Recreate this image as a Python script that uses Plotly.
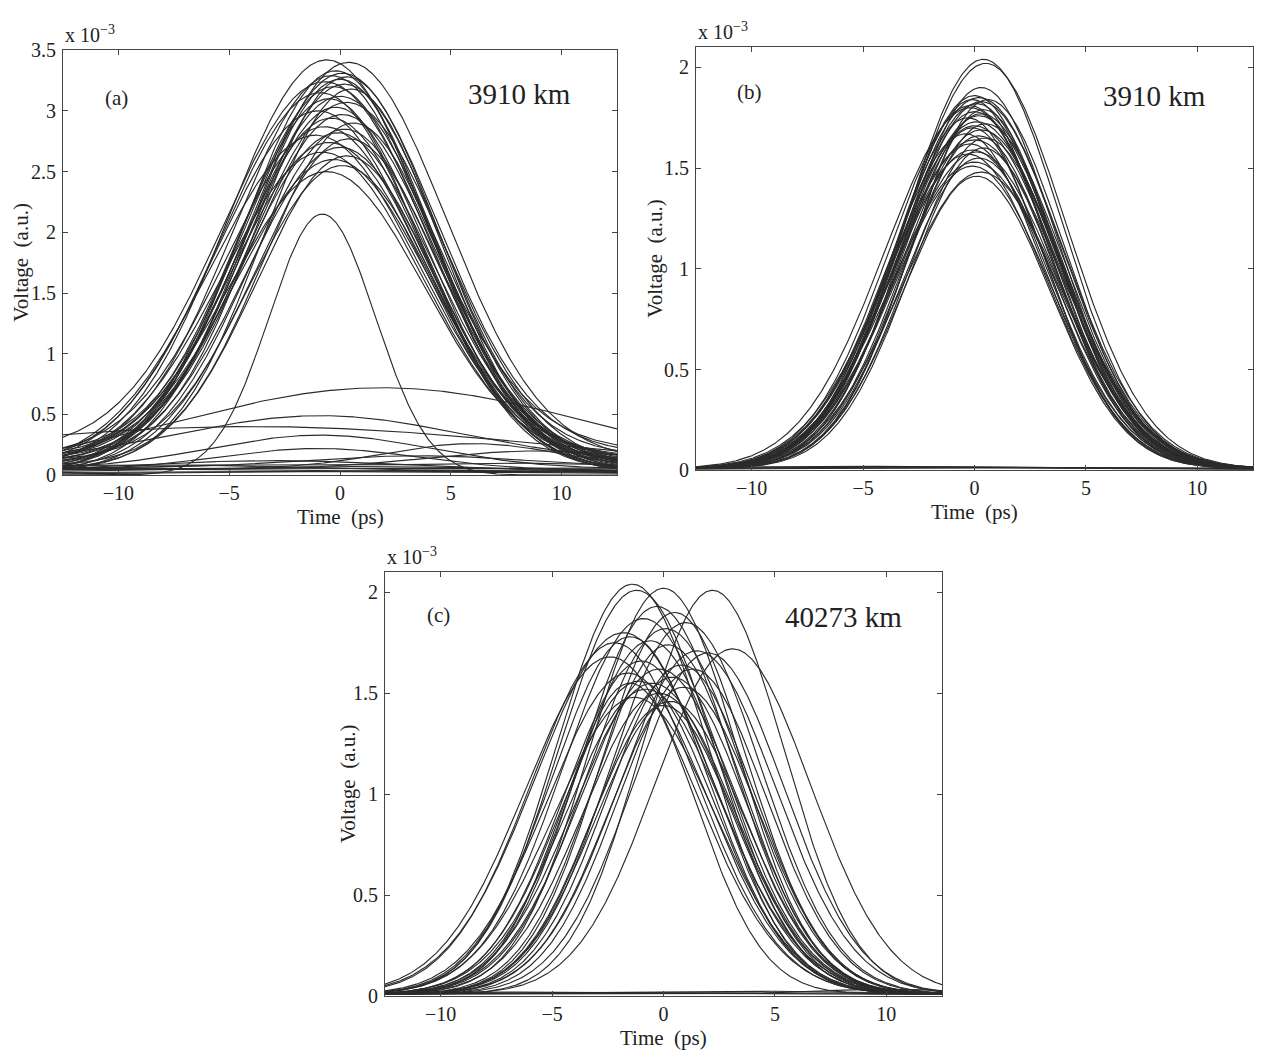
import numpy as np
import plotly.graph_objects as go

# ---- time grid (ps) ----
t = np.linspace(-12.5, 12.5, 501)

# ---- panel (a): 3910 km, "one" bits ----
a_peak   = [3.42, 3.40, 3.33, 3.31, 3.29, 3.28, 3.26, 3.24, 3.22, 3.20, 3.18, 3.15, 3.12, 3.10, 3.07,
            3.03, 3.00, 2.97, 2.94, 2.90, 2.87, 2.85, 2.82, 2.80, 2.77, 2.74, 2.70, 2.66, 2.63, 2.60,
            2.55, 2.50, 2.15]
a_center = [-0.6, 0.4, -0.2, 0.1, -0.4, 0.3, 0.0, -0.7, 0.2, -0.3, 0.5, -0.9, 0.0, -0.5, 0.3,
            -0.2, -1.0, 0.1, -0.4, 0.6, -0.7, 0.2, -0.1, -1.1, 0.4, -0.5, 0.0, -0.8, 0.3, -0.3,
            0.1, -0.6, -0.8]
a_sigma  = [4.5, 4.4, 4.2, 4.3, 4.4, 4.1, 4.2, 4.6, 4.3, 4.2, 4.0, 4.5, 4.3, 4.2, 4.4,
            4.1, 4.6, 4.2, 4.3, 4.0, 4.4, 4.2, 4.3, 4.7, 4.1, 4.4, 4.2, 4.5, 4.0, 4.3,
            4.2, 4.4, 2.4]
a_base   = [0.05, 0.12, 0.03, 0.18, 0.08, 0.10, 0.02, 0.20, 0.06, 0.14, 0.04, 0.09, 0.16, 0.03, 0.07,
            0.11, 0.05, 0.13, 0.02, 0.08, 0.15, 0.04, 0.10, 0.06, 0.12, 0.03, 0.09, 0.07, 0.05, 0.14,
            0.02, 0.10, 0.00]

# ---- panel (a): "zero" bits ----
a_low_peak   = [0.72, 0.49, 0.40, 0.33, 0.26, 0.22, 0.20, 0.16, 0.12, 0.10, 0.08, 0.07, 0.06, 0.05, 0.04, 0.03]
a_low_center = [1.9, -0.9, -4.0, -0.9, 6.0, -1.0, 9.0, 3.5, -3.0, 7.5, -6.0, 1.0, 10.0, -9.0, 4.0, -2.0]
a_low_sigma  = [9.4, 6.5, 14.0, 5.0, 4.0, 4.5, 5.0, 5.0, 6.0, 3.0, 4.0, 8.0, 3.0, 4.0, 6.0, 10.0]
a_low_base   = [0.00, 0.10, 0.00, 0.05, 0.05, 0.04, 0.05, 0.06, 0.03, 0.08, 0.04, 0.02, 0.05, 0.03, 0.01, 0.01]

# ---- panel (b): 3910 km ----
b_peak   = [2.04, 2.02, 1.90, 1.86, 1.85, 1.84, 1.83, 1.82, 1.80, 1.79, 1.78, 1.76, 1.75, 1.73, 1.72,
            1.70, 1.69, 1.67, 1.66, 1.64, 1.62, 1.60, 1.58, 1.57, 1.55, 1.53, 1.51, 1.48, 1.46, 1.84,
            1.81, 1.77, 1.71, 1.65, 1.59]
b_center = [0.4, 0.5, 0.3, 0.0, 0.2, -0.1, 0.3, 0.1, -0.2, 0.4, 0.0, 0.2, -0.3, 0.1, 0.5,
            -0.1, 0.3, -0.4, 0.2, 0.0, -0.2, 0.4, 0.1, -0.3, 0.2, 0.0, -0.1, 0.3, 0.1, 0.6,
            -0.2, 0.3, 0.0, 0.5, -0.1]
b_sigma  = [3.5, 3.6, 3.4, 3.5, 3.7, 3.4, 3.6, 3.5, 3.8, 3.3, 3.5, 3.6, 3.4, 3.7, 3.5,
            3.3, 3.6, 3.5, 3.4, 3.8, 3.5, 3.3, 3.6, 3.5, 3.4, 3.7, 3.5, 3.6, 3.3, 3.4,
            3.6, 3.5, 3.7, 3.4, 3.6]
b_base   = 0.008
b_zero_peak   = [0.012, 0.018, 0.015, 0.020]
b_zero_center = [0.0, -3.0, 4.0, -6.0]
b_zero_sigma  = [6.0, 5.0, 5.0, 7.0]
b_zero_base   = [0.005, 0.008, 0.010, 0.006]

# ---- panel (c): 40273 km ----
c_peak   = [2.04, 2.01, 2.02, 2.01, 1.72, 1.93, 1.90, 1.87, 1.85, 1.80, 1.78, 1.76, 1.74, 1.71, 1.68,
            1.66, 1.64, 1.62, 1.60, 1.58, 1.56, 1.55, 1.53, 1.50, 1.48, 1.46, 1.44, 1.70, 1.82, 1.75,
            1.62, 1.52, 1.55]
c_center = [-1.4, -1.2, 0.0, 2.2, 3.1, -0.3, 0.5, -0.9, 1.0, -1.8, -1.5, -0.6, 0.2, 1.5, -2.4,
            -1.0, 0.8, -0.2, -1.6, 0.4, -1.1, -0.5, 0.9, -0.2, -1.3, 0.3, 0.0, 2.0, 0.1, -2.2,
            1.3, -0.8, -1.5]
c_sigma  = [3.4, 3.5, 3.3, 3.2, 3.5, 3.4, 3.3, 3.6, 3.4, 3.9, 3.5, 3.4, 3.3, 3.5, 3.8,
            3.4, 3.3, 3.5, 3.6, 3.3, 3.4, 3.5, 3.3, 3.4, 3.6, 3.3, 3.2, 3.4, 3.5, 3.7,
            3.3, 3.5, 3.0]
c_base   = 0.01
c_zero_peak   = [0.015, 0.025, 0.035, 0.020]
c_zero_center = [-2.0, 3.0, 10.0, -8.0]
c_zero_sigma  = [7.0, 5.0, 3.0, 4.0]
c_zero_base   = [0.008, 0.012, 0.010, 0.015]

y_ticks_a = [0, 0.5, 1, 1.5, 2, 2.5, 3, 3.5]
y_ticks_bc = [0, 0.5, 1, 1.5, 2]
x_ticks = [-10, -5, 0, 5, 10]


def pulse(peak, center, sigma, base):
    """Gaussian pulse of total height `peak` sitting on a constant `base`."""
    return base + (peak - base) * np.exp(-(t - center) ** 2 / (2 * sigma ** 2))


LINE = dict(color="#2b2b2b", width=1.15)
fig = go.Figure()


def add_set(peaks, centers, sigmas, bases, xa, ya):
    if np.isscalar(bases):
        bases = [bases] * len(peaks)
    for p, c, s, b in zip(peaks, centers, sigmas, bases):
        fig.add_trace(go.Scatter(x=t, y=pulse(p, c, s, b), mode="lines", line=LINE,
                                 xaxis=xa, yaxis=ya, showlegend=False, hoverinfo="skip"))


add_set(a_low_peak, a_low_center, a_low_sigma, a_low_base, "x", "y")
add_set(a_peak, a_center, a_sigma, a_base, "x", "y")
add_set(b_zero_peak, b_zero_center, b_zero_sigma, b_zero_base, "x2", "y2")
add_set(b_peak, b_center, b_sigma, b_base, "x2", "y2")
add_set(c_zero_peak, c_zero_center, c_zero_sigma, c_zero_base, "x3", "y3")
add_set(c_peak, c_center, c_sigma, c_base, "x3", "y3")

W, H = 1267, 1060
FONT = "Liberation Serif"
TICKFONT = dict(family=FONT, size=20, color="#222")


def xa(l, r):
    return dict(domain=[l / W, r / W], range=[-12.5, 12.5], tickvals=x_ticks,
                ticktext=["\u221210", "\u22125", "0", "5", "10"],
                ticks="inside", ticklen=5, tickwidth=1, tickcolor="#444",
                showline=True, linecolor="#444", linewidth=1.2, mirror="ticks",
                showgrid=False, zeroline=False, tickfont=TICKFONT, ticklabelstandoff=0)


def ya(top, bot, rng, ticks):
    return dict(domain=[1 - bot / H, 1 - top / H], range=rng, tickvals=ticks,
                ticks="inside", ticklen=5, tickwidth=1, tickcolor="#444",
                showline=True, linecolor="#444", linewidth=1.2, mirror="ticks",
                showgrid=False, zeroline=False, tickfont=TICKFONT, ticklabelstandoff=2)


# panel boxes (pixels): (left, right, top, bottom)
A = (63, 617, 40, 474)
B = (696, 1253, 37, 469)
C = (385, 942, 573, 1006)

fig.update_layout(
    width=W, height=H, margin=dict(l=0, r=0, t=0, b=0),
    paper_bgcolor="white", plot_bgcolor="white", showlegend=False,
    xaxis=dict(xa(A[0], A[1]), anchor="y"),
    yaxis=dict(ya(A[2], A[3], [0, 3.5], y_ticks_a), anchor="x"),
    xaxis2=dict(xa(B[0], B[1]), anchor="y2"),
    yaxis2=dict(ya(B[2], B[3], [0, 2.1], y_ticks_bc), anchor="x2"),
    xaxis3=dict(xa(C[0], C[1]), anchor="y3"),
    yaxis3=dict(ya(C[2], C[3], [0, 2.1], y_ticks_bc), anchor="x3"),
)

ann = []
txt = dict(family=FONT, color="#222")
for box, lab, dist, xr, yr, ylab, ydist, vx in [
    (A, "(a)", "3910 km", "x", "y", 3.11, 3.14, 21),
    (B, "(b)", "3910 km", "x2", "y2", 1.88, 1.86, 655),
    (C, "(c)", "40273 km", "x3", "y3", 1.89, 1.88, 348),
]:
    l, r, top, bot = box
    # exponent label above the y axis
    ann.append(dict(x=l / W, y=1 - (top - 2) / H, xref="paper", yref="paper",
                    xanchor="left", yanchor="bottom", showarrow=False,
                    text="x 10<sup>\u22123</sup>", font=dict(txt, size=20)))
    # panel letter and distance
    ann.append(dict(x=-10.1, y=ylab, xref=xr, yref=yr, showarrow=False,
                    xanchor="center", yanchor="middle",
                    text=lab, font=dict(txt, size=21)))
    ann.append(dict(x=8.1, y=ydist, xref=xr, yref=yr, showarrow=False,
                    xanchor="center", yanchor="middle",
                    text=dist, font=dict(txt, size=29)))
    # axis titles
    ann.append(dict(x=(l + r) / 2 / W, y=1 - (bot + 43) / H, xref="paper", yref="paper",
                    xanchor="center", yanchor="middle",
                    showarrow=False, text="Time&nbsp;&nbsp;(ps)", font=dict(txt, size=21)))
    ann.append(dict(x=vx / W, y=1 - (top + bot) / 2 / H, xref="paper", yref="paper",
                    xanchor="center", yanchor="middle",
                    showarrow=False, textangle=-90, text="Voltage&nbsp;&nbsp;(a.u.)",
                    font=dict(txt, size=21)))

fig.update_layout(annotations=ann)
fig.write_html("out.html")
